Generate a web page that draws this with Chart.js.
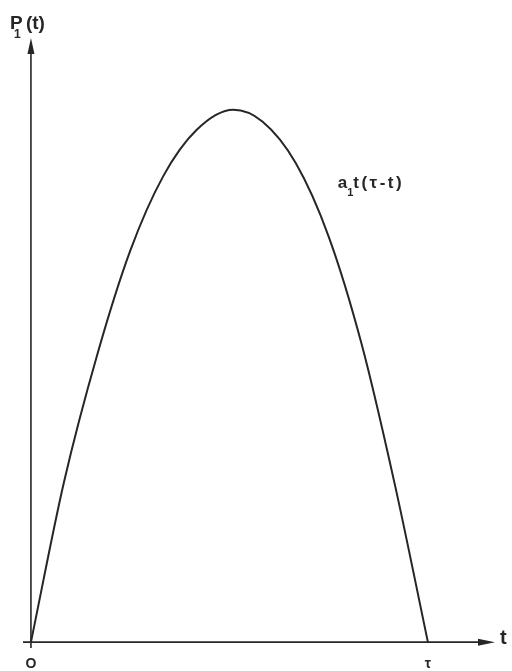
<!DOCTYPE html>
<html>
<head>
<meta charset="utf-8">
<script src="https://cdn.jsdelivr.net/npm/chart.js@4/dist/chart.umd.min.js"></script>
<style>
  html, body { margin: 0; padding: 0; background: #fff; }
  #wrap { width: 512px; height: 671px; }
</style>
</head>
<body>
<div id="wrap"><canvas id="chart" width="512" height="671"></canvas></div>
<script>
// t measured in units of tau, P1 in units of its peak value
const tValues = [0, 0.083, 0.167, 0.25, 0.333, 0.417, 0.51, 0.583, 0.667, 0.75, 0.833, 0.917, 1];
const pValues = [0, 0.30, 0.54, 0.735, 0.875, 0.962, 1.0, 0.978, 0.9, 0.762, 0.56, 0.295, 0];

const xTickValues = [0, 1];
const xTickLabels = ['O', 'τ'];
const curveLabelAt = { t: 0.773, p: 0.853 };

const ink = '#262626';
const font = '"Liberation Sans", Arial, sans-serif';

// axes with arrowheads, tick labels and the formula label
const sketchAxes = {
  id: 'sketchAxes',
  afterDatasetsDraw(c) {
    const ctx = c.ctx;
    const xs = c.scales.x, ys = c.scales.y;
    const x0 = xs.getPixelForValue(0), y0 = ys.getPixelForValue(0);
    const left = xs.left, right = xs.right, top = ys.top, bottom = ys.bottom;

    ctx.save();
    ctx.strokeStyle = ink;
    ctx.fillStyle = ink;
    ctx.lineWidth = 1.6;

    // vertical axis
    ctx.beginPath();
    ctx.moveTo(x0, bottom);
    ctx.lineTo(x0, top + 12);
    ctx.stroke();
    ctx.beginPath();
    ctx.moveTo(x0, top);
    ctx.lineTo(x0 - 3.5, top + 16);
    ctx.lineTo(x0 + 3.5, top + 16);
    ctx.closePath();
    ctx.fill();

    // horizontal axis
    ctx.beginPath();
    ctx.moveTo(left, y0);
    ctx.lineTo(right - 12, y0);
    ctx.stroke();
    ctx.beginPath();
    ctx.moveTo(right, y0);
    ctx.lineTo(right - 17, y0 - 3.5);
    ctx.lineTo(right - 17, y0 + 3.5);
    ctx.closePath();
    ctx.fill();

    // tick labels under the t axis
    ctx.textAlign = 'center';
    ctx.textBaseline = 'alphabetic';
    xTickValues.forEach((v, i) => {
      ctx.font = 'bold 14px ' + font;
      ctx.fillText(xTickLabels[i], xs.getPixelForValue(v), y0 + 26);
    });

    // axis names
    ctx.textAlign = 'left';
    ctx.font = 'bold 20px ' + font;
    ctx.fillText('t', right + 5, y0 + 2);

    ctx.font = 'bold 19px ' + font;
    ctx.fillText('P', x0 - 21, top - 9);
    ctx.font = 'bold 12px ' + font;
    ctx.fillText('1', x0 - 17, top);
    ctx.font = 'bold 19px ' + font;
    ctx.fillText('(t)', x0 - 5, top - 9);

    // formula next to the falling branch
    const lx = xs.getPixelForValue(curveLabelAt.t);
    const ly = ys.getPixelForValue(curveLabelAt.p);
    ctx.font = 'bold 17px ' + font;
    ctx.fillText('a', lx, ly);
    const aw = ctx.measureText('a').width;
    ctx.font = 'bold 11px ' + font;
    ctx.fillText('1', lx + aw, ly + 8);
    ctx.font = 'bold 17px ' + font;
    ctx.letterSpacing = '2.5px';
    ctx.fillText('t(τ-t)', lx + aw + 6, ly);
    ctx.restore();
  }
};

new Chart(document.getElementById('chart'), {
  type: 'line',
  data: {
    datasets: [{
      data: tValues.map((t, i) => ({ x: t, y: pValues[i] })),
      borderColor: ink,
      borderWidth: 2,
      pointRadius: 0,
      fill: false,
      cubicInterpolationMode: 'monotone'
    }]
  },
  options: {
    responsive: false,
    animation: false,
    layout: { padding: { left: 23, right: 17, top: 38, bottom: 23 } },
    plugins: { legend: { display: false }, tooltip: { enabled: false } },
    scales: {
      x: { type: 'linear', min: -0.02, max: 1.169, display: false },
      y: { type: 'linear', min: -0.011, max: 1.135, display: false }
    }
  },
  plugins: [sketchAxes]
});
</script>
</body>
</html>
